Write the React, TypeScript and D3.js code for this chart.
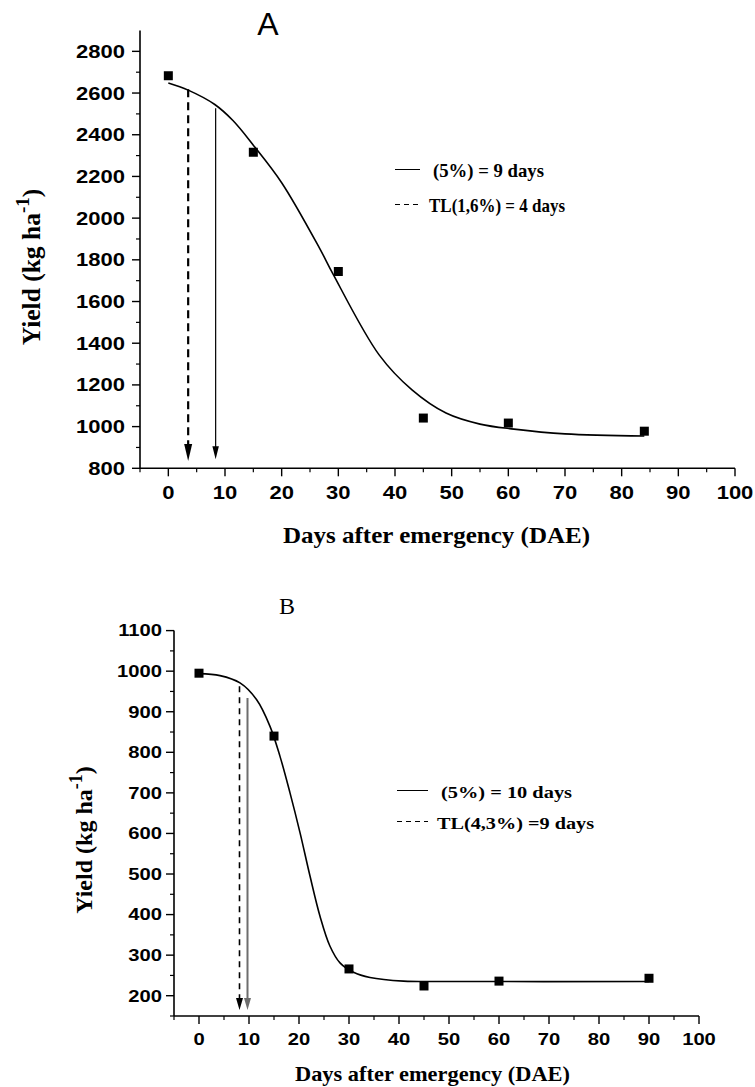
import React from 'react'
import * as d3 from 'd3'

const daysA = [0, 15, 30, 45, 60, 84]
const yieldA = [2683, 2316, 1744, 1041, 1017, 978]
const fitDaysA = [0, 3.5, 8.2, 11.4, 15, 20, 26.7, 29, 37.2, 43, 49, 55, 61, 70, 84]
const fitYieldA = [2648, 2614, 2545, 2468, 2350, 2170, 1855, 1735, 1344, 1176, 1065, 1012, 988, 965, 955]
const arrowDaysA = [3.5, 8.35]
const arrowTopA = [2618, 2527]
const arrowTipA = [835, 843]
const legendA = ['(5%) = 9 days', 'TL(1,6%) = 4 days']

// panel B
const daysB = [0, 15, 30, 45, 60, 90]
const yieldB = [995, 840, 266, 224, 236, 243]
const fitDaysB = [0, 4.2, 8.2, 11.5, 14.2, 16.2, 18.2, 20.2, 22.2, 24.2, 26.2, 28.2, 30.9, 34.2, 40.9, 50, 90]
const fitYieldB = [994, 989, 971, 930, 864, 790, 700, 602, 495, 396, 322, 281, 258, 245, 236, 235, 235]
const arrowDaysB = [8.1, 9.7]
const arrowTopB = [963, 934]
const arrowTipB = [165, 165]
const legendB = ['(5%) = 10 days', 'TL(4,3%) =9 days']

// ticks
const xTicks = d3.range(0, 101, 10)
const xMinor = d3.range(-5, 100, 10)
const yTicksA = d3.range(800, 2801, 200)
const yMinorA = d3.range(900, 2800, 200)
const yTicksB = d3.range(200, 1101, 100)
const yMinorB = d3.range(150, 1100, 100)

const xTitle = 'Days after emergency (DAE)'

const SERIF = 'Liberation Serif, Times New Roman, serif'
const SANS = 'Liberation Sans, Arial, sans-serif'

type Cfg = {
  days: number[]
  yields: number[]
  fitDays: number[]
  fitYield: number[]
  arrowDays: number[]
  arrowTop: number[]
  arrowTip: number[]
  legend: string[]
  yTicks: number[]
  yMinor: number[]
  yDomain: [number, number]
  xRange: [number, number]
  yRange: [number, number]
  tickFont: number
  tickStretch: number
  labelGap: number
  xLabelOffset: number
  title: string
  titleFont: string
  titleSize: number
  titleX: number
  titleY: number
  xTitleY: number
  xTitleX: number
  xTitleSize: number
  xTitleLen: number
  yTitleX: number
  yTitleY: number
  yTitleSize: number
  legendX: number
  legendRows: number[]
  legendSize: number
  legendLens: number[]
  legendLine: number
  dashed: { dash: string; width: number; head: [number, number] }
  solid: { color: string; width: number; head: [number, number] }
}

function Panel({ c }: { c: Cfg }) {
  const x = d3.scaleLinear().domain([-5, 100]).range(c.xRange)
  const y = d3.scaleLinear().domain(c.yDomain).range(c.yRange)
  const x0 = c.xRange[0]
  const yb = c.yRange[0]

  const line = d3
    .line<number>()
    .x((d, i) => x(c.fitDays[i]))
    .y((d) => y(d))
    .curve(d3.curveCatmullRom.alpha(0.5))

  const head = (px: number, tip: number, size: [number, number]) =>
    `M${px},${tip} L${px - size[0] / 2},${tip - size[1]} L${px + size[0] / 2},${tip - size[1]} Z`

  return (
    <g>
      <text
        x={c.titleX}
        y={c.titleY}
        textAnchor="middle"
        fontFamily={c.titleFont}
        fontSize={c.titleSize}
      >
        {c.title}
      </text>

      {/* axes */}
      <line x1={x0} x2={x0} y1={yb} y2={c.yRange[1]} stroke="#000" strokeWidth={1.6} />
      <line x1={x0} x2={c.xRange[1]} y1={yb} y2={yb} stroke="#000" strokeWidth={1.6} />
      {c.yTicks.map((t) => (
        <g key={'y' + t}>
          <line x1={x0 - 8} x2={x0} y1={y(t)} y2={y(t)} stroke="#000" strokeWidth={1.4} />
          <text
            transform={`translate(${x0 - c.labelGap},${y(t)}) scale(${c.tickStretch},1)`}
            dy="0.36em"
            textAnchor="end"
            fontFamily={SANS}
            fontWeight="bold"
            fontSize={c.tickFont}
          >
            {t}
          </text>
        </g>
      ))}
      {c.yMinor.map((t) => (
        <line key={'ym' + t} x1={x0 - 4} x2={x0} y1={y(t)} y2={y(t)} stroke="#000" strokeWidth={1.2} />
      ))}
      {xTicks.map((t) => (
        <g key={'x' + t}>
          <line x1={x(t)} x2={x(t)} y1={yb} y2={yb + 8} stroke="#000" strokeWidth={1.4} />
          <text
            transform={`translate(${x(t)},${yb + c.xLabelOffset}) scale(${c.tickStretch},1)`}
            textAnchor="middle"
            fontFamily={SANS}
            fontWeight="bold"
            fontSize={c.tickFont}
          >
            {t}
          </text>
        </g>
      ))}
      {xMinor.map((t) => (
        <line key={'xm' + t} x1={x(t)} x2={x(t)} y1={yb} y2={yb + 4} stroke="#000" strokeWidth={1.2} />
      ))}

      {/* axis titles */}
      <text
        x={c.xTitleX}
        y={c.xTitleY}
        textAnchor="middle"
        fontFamily={SERIF}
        fontWeight="bold"
        fontSize={c.xTitleSize}
        textLength={c.xTitleLen}
        lengthAdjust="spacingAndGlyphs"
      >
        {xTitle}
      </text>
      <text
        transform={`translate(${c.yTitleX},${c.yTitleY}) rotate(-90)`}
        textAnchor="middle"
        fontFamily={SERIF}
        fontWeight="bold"
        fontSize={c.yTitleSize}
      >
        Yield (kg ha
        <tspan dy={-c.yTitleSize * 0.42} fontSize={c.yTitleSize * 0.75}>
          -1
        </tspan>
        <tspan dy={c.yTitleSize * 0.42}>)</tspan>
      </text>

      {/* arrows: dashed then solid */}
      <line
        x1={x(c.arrowDays[0])}
        x2={x(c.arrowDays[0])}
        y1={y(c.arrowTop[0])}
        y2={y(c.arrowTip[0]) - c.dashed.head[1] + 1}
        stroke="#000"
        strokeWidth={c.dashed.width}
        strokeDasharray={c.dashed.dash}
      />
      <path d={head(x(c.arrowDays[0]), y(c.arrowTip[0]), c.dashed.head)} fill="#000" />
      <line
        x1={x(c.arrowDays[1])}
        x2={x(c.arrowDays[1])}
        y1={y(c.arrowTop[1])}
        y2={y(c.arrowTip[1]) - c.solid.head[1] + 1}
        stroke={c.solid.color}
        strokeWidth={c.solid.width}
      />
      <path d={head(x(c.arrowDays[1]), y(c.arrowTip[1]), c.solid.head)} fill={c.solid.color} />

      {/* fitted curve and data */}
      <path d={line(c.fitYield) || ''} fill="none" stroke="#000" strokeWidth={1.6} />
      {c.days.map((d, i) => (
        <rect key={'p' + i} x={x(d) - 4.5} y={y(c.yields[i]) - 4.5} width={9} height={9} fill="#000" />
      ))}

      {/* legend */}
      {c.legend.map((s, i) => {
        const ly = Math.round(c.legendRows[i] - 8) + 0.5
        return (
          <g key={'lg' + i}>
            <line
              x1={c.legendX}
              x2={c.legendX + c.legendLine}
              y1={ly}
              y2={ly}
              stroke="#000"
              strokeWidth={1}
              strokeDasharray={i === 1 ? '5,4' : undefined}
            />
            <text
              x={c.legendX + c.legendLine + (i === 0 ? 13 : 9)}
              y={c.legendRows[i]}
              fontFamily={SERIF}
              fontWeight="bold"
              fontSize={c.legendSize}
              textLength={c.legendLens[i]}
              lengthAdjust="spacingAndGlyphs"
            >
              {s}
            </text>
          </g>
        )
      })}
    </g>
  )
}

const cfgA: Cfg = {
  days: daysA,
  yields: yieldA,
  fitDays: fitDaysA,
  fitYield: fitYieldA,
  arrowDays: arrowDaysA,
  arrowTop: arrowTopA,
  arrowTip: arrowTipA,
  legend: legendA,
  yTicks: yTicksA,
  yMinor: yMinorA,
  yDomain: [800, 2900],
  xRange: [140, 735],
  yRange: [468.3, 30.5],
  tickFont: 18.2,
  tickStretch: 1.21,
  labelGap: 15,
  xLabelOffset: 31,
  title: 'A',
  titleFont: SANS,
  titleSize: 32,
  titleX: 268,
  titleY: 35,
  xTitleX: 436.5,
  xTitleY: 542.5,
  xTitleSize: 23,
  xTitleLen: 307,
  yTitleX: 40,
  yTitleY: 267,
  yTitleSize: 25.5,
  legendX: 395,
  legendRows: [176.5, 211.5],
  legendSize: 19.5,
  legendLens: [111, 136],
  legendLine: 25,
  dashed: { dash: '8,5', width: 2.2, head: [8, 17] },
  solid: { color: '#000', width: 1.2, head: [6.5, 13] },
}

const cfgB: Cfg = {
  days: daysB,
  yields: yieldB,
  fitDays: fitDaysB,
  fitYield: fitYieldB,
  arrowDays: arrowDaysB,
  arrowTop: arrowTopB,
  arrowTip: arrowTipB,
  legend: legendB,
  yTicks: yTicksB,
  yMinor: yMinorB,
  yDomain: [150, 1100],
  xRange: [174, 699],
  yRange: [1016, 630.6],
  tickFont: 16.3,
  tickStretch: 1.24,
  labelGap: 12,
  xLabelOffset: 29,
  title: 'B',
  titleFont: SERIF,
  titleSize: 24,
  titleX: 287,
  titleY: 614,
  xTitleX: 432.5,
  xTitleY: 1081,
  xTitleSize: 21.5,
  xTitleLen: 275,
  yTitleX: 92,
  yTitleY: 840,
  yTitleSize: 24,
  legendX: 397,
  legendRows: [798, 829],
  legendSize: 17.5,
  legendLens: [131, 157],
  legendLine: 31,
  dashed: { dash: '6,5', width: 1.6, head: [7, 12] },
  solid: { color: '#6e6e6e', width: 2, head: [7, 12] },
}

export default function App() {
  return (
    <svg
      width={755}
      height={1087}
      style={{ position: 'absolute', left: 0, top: 0, background: '#fff' }}
    >
      <rect width={755} height={1087} fill="#fff" />
      <Panel c={cfgA} />
      <Panel c={cfgB} />
    </svg>
  )
}
